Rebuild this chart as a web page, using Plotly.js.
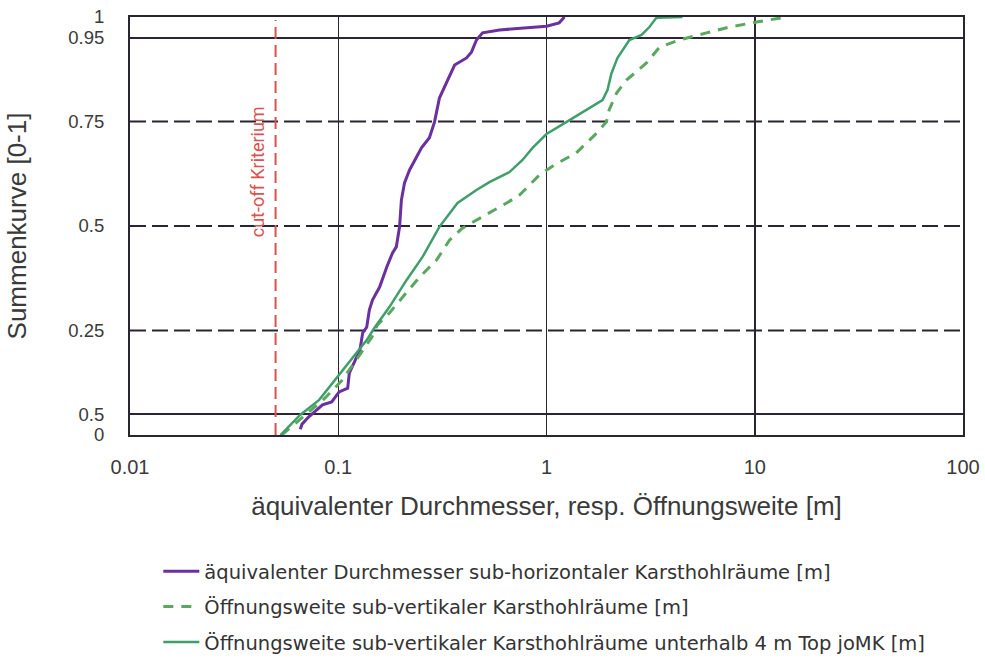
<!DOCTYPE html>
<html><head><meta charset="utf-8">
<script src="https://cdn.plot.ly/plotly-3.0.1.min.js"></script>
<style>html,body{margin:0;padding:0;background:#fff;}#chart{width:985px;height:659px;}</style>
</head><body><div id="chart"></div>
<script>
// Sub-horizontal karst cavities: equivalent diameter
const horizX = [0.0657,0.067,0.072,0.084,0.093,0.098,0.101,0.111,0.113,0.127,0.131,0.137,0.141,0.146,0.158,0.171,0.182,0.19,0.197,0.201,0.208,0.22,0.238,0.251,0.274,0.29,0.306,0.324,0.35,0.362,0.413,0.436,0.461,0.493,0.595,0.767,1.0,1.15,1.22];
const horizY = [0.014,0.026,0.043,0.072,0.079,0.096,0.103,0.112,0.148,0.203,0.244,0.258,0.299,0.323,0.354,0.402,0.435,0.45,0.498,0.562,0.603,0.634,0.665,0.687,0.711,0.749,0.806,0.833,0.866,0.885,0.902,0.916,0.945,0.962,0.969,0.974,0.978,0.986,1.0];
// Sub-vertical karst cavities: opening width
const vertX = [0.0535,0.068,0.085,0.104,0.118,0.131,0.145,0.154,0.176,0.204,0.246,0.297,0.342,0.395,0.493,0.643,0.742,0.925,1.09,1.39,1.74,1.94,2.0,2.17,2.42,3.02,3.49,4.35,5.86,7.56,10.2,13.1,14.2];
const vertY = [0.0,0.045,0.085,0.13,0.17,0.203,0.234,0.263,0.292,0.33,0.378,0.419,0.466,0.495,0.522,0.555,0.574,0.622,0.646,0.675,0.722,0.749,0.778,0.818,0.849,0.89,0.928,0.945,0.962,0.976,0.988,0.998,1.0];
// Sub-vertical below 4 m Top joMK
const vert4X = [0.0528,0.0656,0.081,0.101,0.117,0.137,0.149,0.176,0.213,0.254,0.306,0.374,0.461,0.532,0.664,0.767,0.857,1.0,1.25,1.556,1.857,1.963,2.05,2.19,2.5,2.86,3.12,3.37,4.5];
const vert4Y = [0.0,0.048,0.084,0.144,0.184,0.227,0.256,0.306,0.371,0.426,0.498,0.555,0.586,0.605,0.629,0.658,0.687,0.72,0.749,0.778,0.801,0.825,0.865,0.902,0.945,0.957,0.976,0.998,1.0];

const names = ["äquivalenter Durchmesser sub-horizontaler Karsthohlräume [m]","Öffnungsweite sub-vertikaler Karsthohlräume [m]","Öffnungsweite sub-vertikaler Karsthohlräume unterhalb 4 m Top joMK [m]"];
const yTickVals = [0,0.05,0.25,0.5,0.75,0.95,1];
const yTickText = ["0","0.5","0.25","0.5","0.75","0.95","1"];
const xTickVals = [0.01,0.1,1,10,100];
const xTickText = ["0.01","0.1","1","10","100"];
const solidLevels = [0.05,0.95];
const dashedLevels = [0.25,0.5,0.75];
const cutoff = 0.05;
const cutoffTop = 0.993;

const gridCol = "#2a2433";
const traces = [
  {x: horizX, y: horizY, name: names[0], mode:"lines", line:{color:"#6b2fa0", width:3}, legendgroup:"a"},
  {x: vertX, y: vertY, name: names[1], mode:"lines", line:{color:"#5aa85e", width:3, dash:"10px,8px"}, legendgroup:"b"},
  {x: vert4X, y: vert4Y, name: names[2], mode:"lines", line:{color:"#3f9f6a", width:2.5}, legendgroup:"c"},
  {x: [cutoff,cutoff], y:[0,cutoffTop], mode:"lines", line:{color:"#d9534f", width:2, dash:"12px,6px"}, showlegend:false, hoverinfo:"skip"}
];
const shapes = [];
solidLevels.forEach(v => shapes.push({type:"line", xref:"paper", x0:0, x1:1, yref:"y", y0:v, y1:v, line:{color:gridCol, width:2}, layer:"below"}));
dashedLevels.forEach(v => shapes.push({type:"line", xref:"paper", x0:0, x1:1, yref:"y", y0:v, y1:v, line:{color:gridCol, width:2, dash:"16px,6px"}, layer:"below"}));

const layout = {
  width:985, height:659,
  margin:{l:130, r:22, t:17, b:224, autoexpand:false},
  paper_bgcolor:"#fff", plot_bgcolor:"#fff",
  font:{family:"Liberation Sans, Arial, sans-serif", color:"#3a3a3a"},
  showlegend:true,
  legend:{x:0.034, y:-0.28, xanchor:"left", yanchor:"top", traceorder:"grouped", tracegroupgap:7,
    font:{family:"DejaVu Sans, sans-serif", size:19.5, color:"#333"}, itemwidth:36, bgcolor:"rgba(0,0,0,0)"},
  xaxis:{type:"log", range:[-2,2], tickvals:xTickVals, ticktext:xTickText, showgrid:true, gridcolor:gridCol, gridwidth:1.5,
    showline:true, mirror:true, linecolor:gridCol, linewidth:2, zeroline:false, ticks:"", ticklabelstandoff:13,
    automargin:false,
    tickfont:{size:20, color:"#3a3a3a"},
    title:{text:"äquivalenter Durchmesser, resp. Öffnungsweite [m]", font:{size:26, color:"#3a3a3a"}, standoff:20}},
  yaxis:{range:[0,1], tickvals:yTickVals, ticktext:yTickText, showgrid:false, zeroline:false,
    showline:true, mirror:true, linecolor:gridCol, linewidth:2, ticks:"", ticklabelstandoff:20,
    automargin:false,
    tickfont:{size:18.5, color:"#3a3a3a"},
    title:{text:"Summenkurve [0-1]", font:{size:26, color:"#3a3a3a"}, standoff:34}},
  shapes: shapes,
  annotations:[{x:Math.log10(cutoff), y:0.63, xref:"x", yref:"y", text:"cut-off Kriterium", textangle:-90, showarrow:false,
    xshift:-18, font:{size:18, color:"#d9534f", family:"Roboto, sans-serif"}}]
};
Plotly.newPlot("chart", traces, layout, {displayModeBar:false, staticPlot:true});
</script></body></html>
